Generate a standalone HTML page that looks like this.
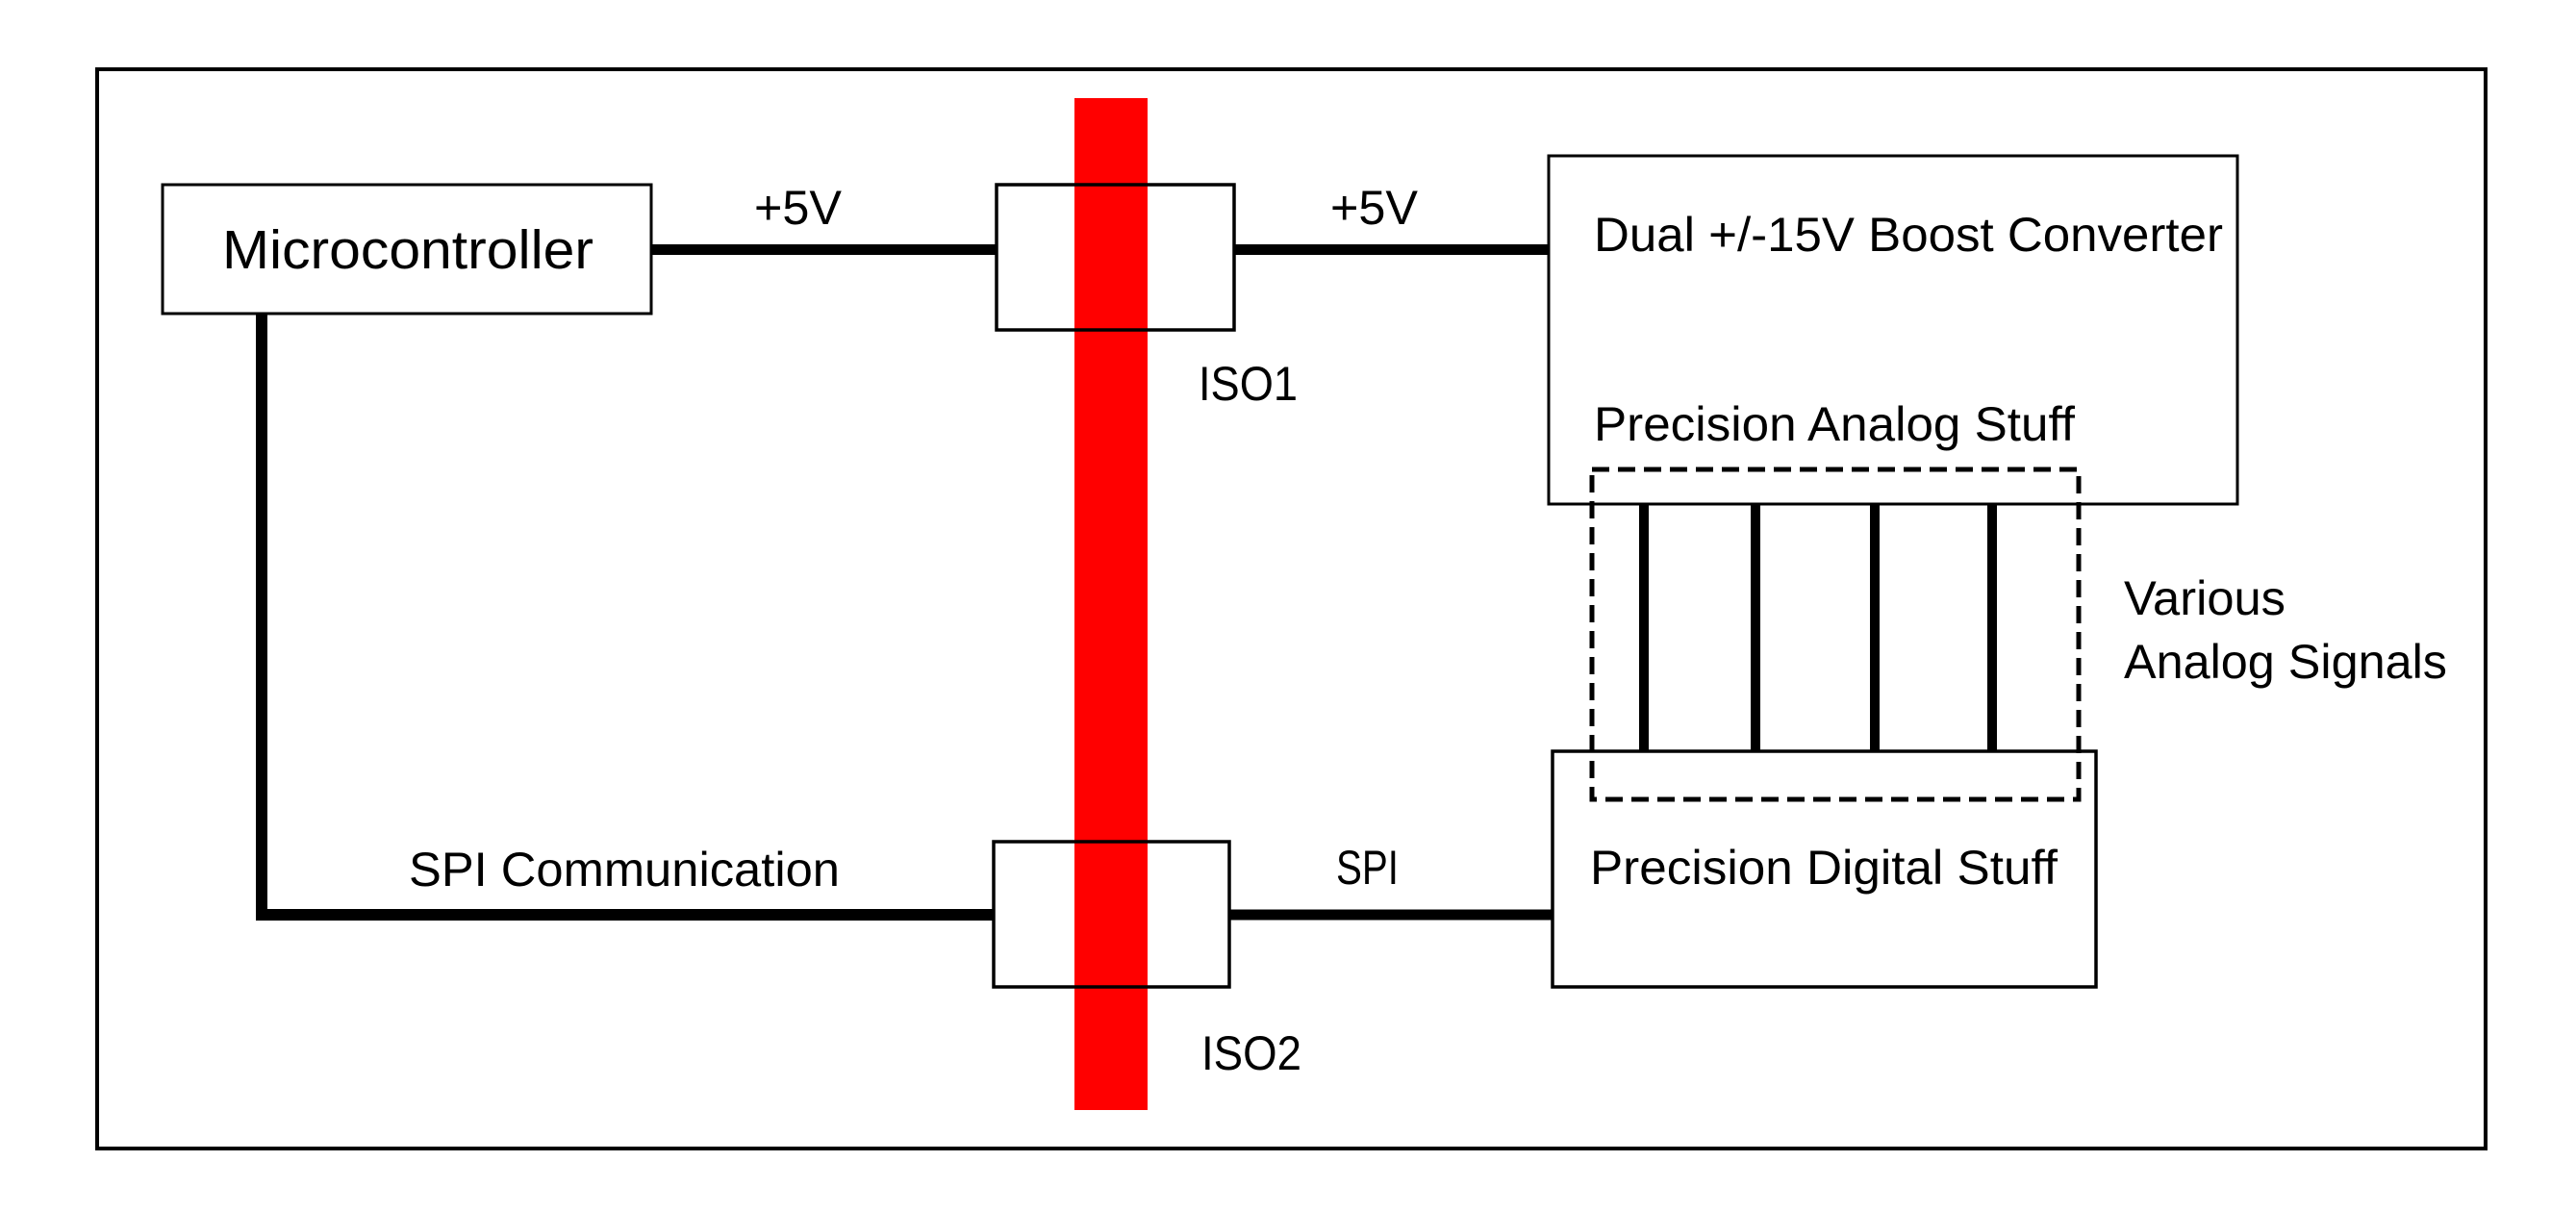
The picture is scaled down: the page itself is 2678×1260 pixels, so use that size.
<!DOCTYPE html>
<html><head><meta charset="utf-8"><style>
html,body{margin:0;padding:0;background:#fff;}
svg{display:block;}
text{font-family:"Liberation Sans",sans-serif;fill:#000;}
</style></head><body>
<svg width="2678" height="1260" viewBox="0 0 2678 1260" xmlns="http://www.w3.org/2000/svg">
<rect x="0" y="0" width="2678" height="1260" fill="#fff"/>
<rect x="101" y="72" width="2483" height="1122" fill="none" stroke="#000" stroke-width="4"/>
<!-- lines -->
<line x1="677" y1="259.5" x2="1035" y2="259.5" stroke="#000" stroke-width="11"/>
<line x1="1283" y1="259.5" x2="1610" y2="259.5" stroke="#000" stroke-width="11"/>
<polyline points="272,326 272,951 1032,951" fill="none" stroke="#000" stroke-width="12"/>
<line x1="1278" y1="951" x2="1614" y2="951" stroke="#000" stroke-width="11"/>
<!-- boxes -->
<rect x="169" y="192" width="508" height="134" fill="#fff" stroke="#000" stroke-width="3"/>
<rect x="1117" y="102" width="76" height="1052" fill="#ff0000"/>
<rect x="1036" y="192" width="247" height="151" fill="none" stroke="#000" stroke-width="3.5"/>
<rect x="1033" y="875" width="245" height="151" fill="none" stroke="#000" stroke-width="3.5"/>
<rect x="1610" y="162" width="716" height="362" fill="#fff" stroke="#000" stroke-width="3"/>
<rect x="1614" y="781" width="565" height="245" fill="#fff" stroke="#000" stroke-width="3.5"/>
<!-- signal lines -->
<g stroke="#000" stroke-width="10">
<line x1="1709" y1="524" x2="1709" y2="781"/>
<line x1="1825" y1="524" x2="1825" y2="781"/>
<line x1="1949" y1="524" x2="1949" y2="781"/>
<line x1="2071" y1="524" x2="2071" y2="781"/>
</g>
<rect x="1655" y="488" width="506" height="343" fill="none" stroke="#000" stroke-width="5" stroke-dasharray="18,9"/>
<!-- text -->
<text x="231" y="279" font-size="57" textLength="386" lengthAdjust="spacingAndGlyphs">Microcontroller</text>
<text x="784" y="233" font-size="50" textLength="91" lengthAdjust="spacingAndGlyphs">+5V</text>
<text x="1383" y="233" font-size="50" textLength="91" lengthAdjust="spacingAndGlyphs">+5V</text>
<text x="1246" y="416" font-size="50" textLength="103" lengthAdjust="spacingAndGlyphs">ISO1</text>
<text x="1249" y="1112" font-size="50" textLength="104" lengthAdjust="spacingAndGlyphs">ISO2</text>
<text x="425" y="921" font-size="50" textLength="448" lengthAdjust="spacingAndGlyphs">SPI Communication</text>
<text x="1389" y="919" font-size="50" textLength="65" lengthAdjust="spacingAndGlyphs">SPI</text>
<text x="1657" y="261" font-size="50" textLength="654" lengthAdjust="spacingAndGlyphs">Dual +/-15V Boost Converter</text>
<text x="1657" y="458" font-size="50" textLength="500" lengthAdjust="spacingAndGlyphs">Precision Analog Stuff</text>
<text x="1653" y="919" font-size="50" textLength="486" lengthAdjust="spacingAndGlyphs">Precision Digital Stuff</text>
<text x="2208" y="639" font-size="50" textLength="168" lengthAdjust="spacingAndGlyphs">Various</text>
<text x="2208" y="705" font-size="50" textLength="336" lengthAdjust="spacingAndGlyphs">Analog Signals</text>
</svg>
</body></html>
